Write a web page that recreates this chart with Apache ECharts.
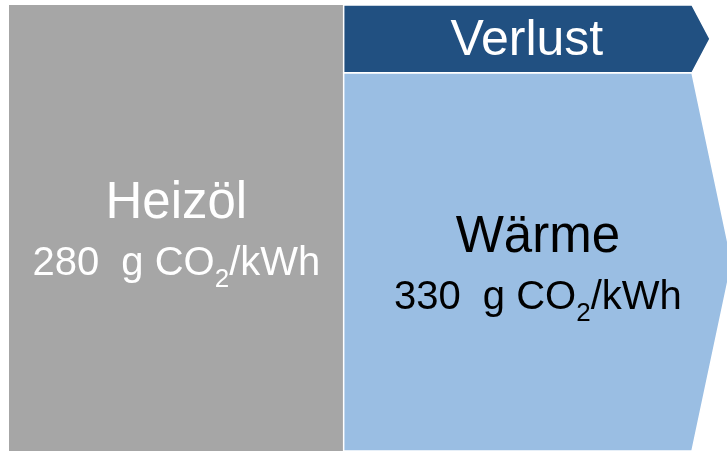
<!DOCTYPE html>
<html>
<head>
<meta charset="utf-8">
<script src="https://cdn.jsdelivr.net/npm/echarts@6/dist/echarts.min.js"></script>
<style>
    html, body { margin: 0; padding: 0; background: #fff; }
    #main { width: 727px; height: 453px; }
</style>
</head>
<body>
<div id="main"></div>
<script>
// Energiefluss: Heizöl -> Wärme + Verlust (Anteil der Energie in %)
var stages = ['Heizöl', 'Wärme', 'Verlust'];
var stageColumn = [0, 1, 1];
var energyShare = [100, 84.8, 15.2];
// CO2-Intensität in g CO2/kWh (Verlust ohne Angabe)
var intensity = [280, 330, null];

// Layout (kein Datenwert)
var splitX = 0.49;
var tipDepth = [0, 40, 18];
var colors = ['#a6a6a6', '#9abee3', '#215081'];
var textColors = ['#ffffff', '#000000', '#ffffff'];

// Stapel je Spalte aufbauen
var stackTop = [0, 0];
var items = stages.map(function (name, i) {
    var col = stageColumn[i];
    var y0 = stackTop[col];
    var y1 = y0 + energyShare[i];
    stackTop[col] = y1;
    return { name: name, value: [col, y0, y1, i] };
});

function renderItem(params, api) {
    var col = api.value(0);
    var i = api.value(3);
    var x0 = col === 0 ? 0 : splitX;
    var x1 = col === 0 ? splitX : 1;
    var tl = api.coord([x0, api.value(2)]);
    var br = api.coord([x1, api.value(1)]);
    var midY = (tl[1] + br[1]) / 2;
    var tip = tipDepth[i];
    var points = [
        [tl[0], tl[1]],
        [br[0], tl[1]],
        [br[0] + tip, midY],
        [br[0], br[1]],
        [tl[0], br[1]]
    ];
    var cx = (tl[0] + br[0] + tip) / 2;
    var children = [{
        type: 'polygon',
        shape: { points: points },
        style: { fill: colors[i], stroke: col === 0 ? null : '#ffffff', lineWidth: 1.5 }
    }];
    if (intensity[i] == null) {
        children.push({
            type: 'text',
            style: {
                text: stages[i], x: cx, y: midY + 2, align: 'center', verticalAlign: 'middle',
                fill: textColors[i], fontFamily: 'Liberation Sans', fontSize: 50
            }
        });
    } else {
        children.push({
            type: 'text',
            style: {
                text: stages[i], x: cx, y: midY - 24, align: 'center', verticalAlign: 'middle',
                fill: textColors[i], fontFamily: 'Liberation Sans', fontSize: 51
            }
        });
        children.push({
            type: 'text',
            style: {
                text: '{a|' + intensity[i] + '  g CO}{s|2}{a|/kWh}',
                x: cx, y: midY + 36, align: 'center', verticalAlign: 'middle',
                rich: {
                    a: { fill: textColors[i], fontFamily: 'Liberation Sans', fontSize: 40, lineHeight: 58 },
                    s: { fill: textColors[i], fontFamily: 'Liberation Sans', fontSize: 26, lineHeight: 58, verticalAlign: 'bottom' }
                }
            }
        });
    }
    return { type: 'group', children: children };
}

var chart = echarts.init(document.getElementById('main'));
chart.setOption({
    animation: false,
    grid: { left: 9, right: 35, top: 5, bottom: 2 },
    xAxis: { type: 'value', min: 0, max: 1, show: false },
    yAxis: { type: 'value', min: 0, max: 100, show: false },
    series: [{
        type: 'custom',
        renderItem: renderItem,
        data: items,
        clip: false
    }]
});
</script>
</body>
</html>
